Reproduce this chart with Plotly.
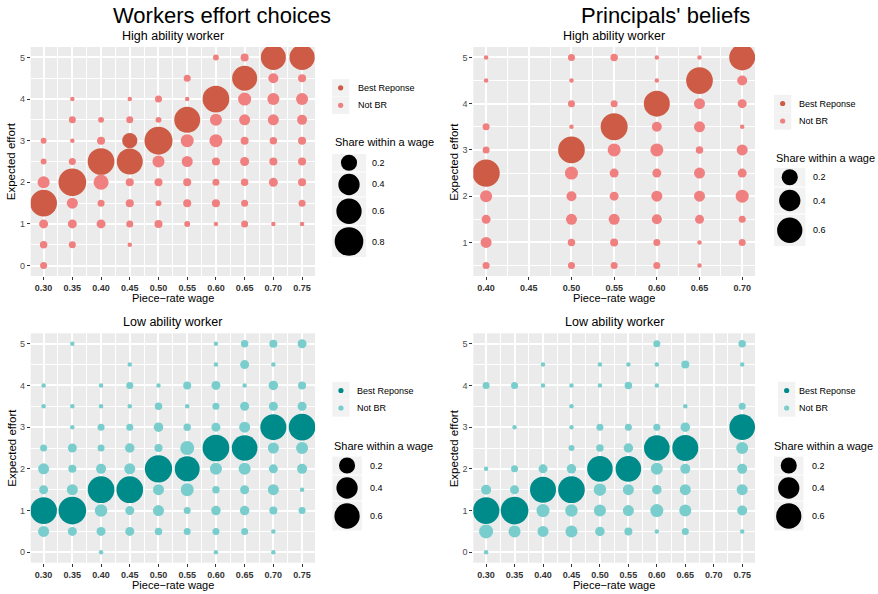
import math
import plotly.graph_objects as go

W, H = 878, 594
FONT = "Liberation Sans, Arial, Helvetica, sans-serif"

# ---------------- data ----------------
# Workers, high ability
wk_high_wages = [0.30, 0.35, 0.40, 0.45, 0.50, 0.55, 0.60, 0.65, 0.70, 0.75]
wk_high_effort = [
    [3.0, 2.5, 2.0, 1.5, 1.0, 0.5, 0.0],
    [4.0, 3.5, 3.0, 2.5, 2.0, 1.5, 1.0, 0.5],
    [3.5, 3.0, 2.5, 2.0, 1.5, 1.0],
    [4.0, 3.5, 3.0, 2.5, 2.0, 1.5, 1.0, 0.5],
    [4.0, 3.5, 3.0, 2.5, 2.0, 1.5, 1.0],
    [4.5, 4.0, 3.5, 3.0, 2.5, 2.0, 1.5, 1.0],
    [5.0, 4.0, 3.5, 3.0, 2.5, 2.0, 1.5, 1.0],
    [5.0, 4.5, 4.0, 3.5, 3.0, 2.5, 2.0, 1.5, 1.0],
    [5.0, 4.5, 4.0, 3.5, 3.0, 2.5, 2.0, 1.0],
    [5.0, 4.5, 4.0, 3.5, 3.0, 2.5, 2.0, 1.5, 1.0],
]
wk_high_share = [
    [0.007, 0.007, 0.09, 0.68, 0.037, 0.019, 0.015],
    [0.001, 0.015, 0.001, 0.015, 0.74, 0.07, 0.037, 0.015],
    [0.007, 0.025, 0.68, 0.166, 0.015, 0.037],
    [0.001, 0.015, 0.17, 0.64, 0.025, 0.025, 0.015, 0.001],
    [0.015, 0.007, 0.76, 0.09, 0.025, 0.007, 0.025],
    [0.015, 0.001, 0.64, 0.113, 0.07, 0.025, 0.025, 0.007],
    [0.007, 0.68, 0.09, 0.113, 0.025, 0.015, 0.025, 0.001],
    [0.025, 0.584, 0.113, 0.07, 0.025, 0.037, 0.019, 0.015, 0.015],
    [0.584, 0.052, 0.09, 0.07, 0.019, 0.025, 0.037, 0.001],
    [0.60, 0.025, 0.09, 0.052, 0.025, 0.025, 0.025, 0.015, 0.001],
]
wk_high_br = [[1.5], [2.0], [2.5], [3.0, 2.5], [3.0], [3.5], [4.0], [4.5], [5.0], [5.0]]

# Principals' beliefs, high ability
pr_high_wages = [0.40, 0.50, 0.55, 0.60, 0.65, 0.70]
pr_high_effort = [
    [5.0, 4.5, 3.5, 3.0, 2.5, 2.0, 1.5, 1.0, 0.5],
    [5.0, 4.5, 4.0, 3.5, 3.0, 2.5, 2.0, 1.5, 1.0, 0.5],
    [5.0, 4.0, 3.5, 3.0, 2.5, 2.0, 1.5, 1.0, 0.5],
    [5.0, 4.5, 4.0, 3.5, 3.0, 2.5, 2.0, 1.5, 1.0, 0.5],
    [5.0, 4.5, 4.0, 3.5, 3.0, 2.5, 2.0, 1.5, 1.0, 0.5],
    [5.0, 4.5, 4.0, 3.5, 3.0, 2.5, 2.0, 1.5, 1.0],
]
pr_high_share = [
    [0.001, 0.001, 0.015, 0.015, 0.72, 0.09, 0.037, 0.07, 0.015],
    [0.015, 0.001, 0.015, 0.001, 0.68, 0.113, 0.052, 0.07, 0.019, 0.015],
    [0.019, 0.015, 0.70, 0.113, 0.037, 0.037, 0.07, 0.025, 0.015],
    [0.001, 0.001, 0.64, 0.052, 0.113, 0.037, 0.07, 0.052, 0.015, 0.015],
    [0.001, 0.68, 0.07, 0.07, 0.019, 0.07, 0.07, 0.037, 0.001, 0.001],
    [0.64, 0.052, 0.037, 0.001, 0.07, 0.037, 0.113, 0.015, 0.015],
]
pr_high_br = [[2.5], [3.0], [3.5], [4.0], [4.5], [5.0]]

# Workers, low ability
wk_low_wages = [0.30, 0.35, 0.40, 0.45, 0.50, 0.55, 0.60, 0.65, 0.70, 0.75]
wk_low_effort = [
    [4.0, 3.5, 2.5, 2.0, 1.5, 1.0, 0.5],
    [5.0, 3.5, 3.0, 2.5, 2.0, 1.5, 1.0, 0.5],
    [4.0, 3.5, 3.0, 2.5, 2.0, 1.5, 1.0, 0.5, 0.0],
    [4.5, 4.0, 3.5, 3.0, 2.5, 2.0, 1.5, 1.0, 0.5],
    [4.0, 3.5, 3.0, 2.5, 2.0, 1.5, 1.0, 0.5],
    [4.0, 3.5, 3.0, 2.5, 2.0, 1.5, 1.0, 0.5],
    [5.0, 4.5, 4.0, 3.5, 3.0, 2.5, 2.0, 1.5, 1.0, 0.5, 0.0],
    [5.0, 4.5, 4.0, 3.5, 3.0, 2.5, 2.0, 1.5, 1.0, 0.5],
    [5.0, 4.5, 4.0, 3.5, 3.0, 2.5, 2.0, 1.5, 1.0, 0.5, 0.0],
    [5.0, 4.0, 3.5, 3.0, 2.5, 2.0, 1.5, 1.0],
]
wk_low_share = [
    [0.001, 0.001, 0.015, 0.07, 0.037, 0.68, 0.07],
    [0.001, 0.001, 0.001, 0.037, 0.025, 0.07, 0.74, 0.037],
    [0.001, 0.001, 0.015, 0.015, 0.052, 0.68, 0.10, 0.037, 0.001],
    [0.001, 0.015, 0.001, 0.015, 0.044, 0.07, 0.68, 0.037, 0.037],
    [0.001, 0.019, 0.044, 0.025, 0.72, 0.07, 0.07, 0.019],
    [0.025, 0.001, 0.019, 0.138, 0.584, 0.113, 0.015, 0.015],
    [0.001, 0.001, 0.037, 0.015, 0.037, 0.68, 0.09, 0.019, 0.044, 0.015, 0.001],
    [0.019, 0.037, 0.001, 0.037, 0.07, 0.62, 0.09, 0.037, 0.044, 0.015],
    [0.025, 0.001, 0.044, 0.037, 0.64, 0.07, 0.037, 0.07, 0.025, 0.001, 0.001],
    [0.037, 0.025, 0.037, 0.68, 0.09, 0.052, 0.001, 0.015],
]
wk_low_br = [[1.0], [1.0], [1.5], [1.5], [2.0], [2.0], [2.5], [2.5], [3.0], [3.0]]

# Principals' beliefs, low ability
pr_low_wages = [0.30, 0.35, 0.40, 0.45, 0.50, 0.55, 0.60, 0.65, 0.75]
pr_low_effort = [
    [4.0, 2.0, 1.5, 1.0, 0.5, 0.0],
    [4.0, 3.0, 2.0, 1.5, 1.0, 0.5],
    [4.5, 4.0, 2.0, 1.5, 1.0, 0.5],
    [4.0, 3.5, 3.0, 2.5, 2.0, 1.5, 1.0, 0.5],
    [4.5, 4.0, 3.0, 2.5, 2.0, 1.5, 1.0, 0.5],
    [4.5, 4.0, 3.0, 2.5, 2.0, 1.5, 1.0, 0.5],
    [5.0, 4.5, 4.0, 3.0, 2.5, 2.0, 1.5, 1.0, 0.5],
    [4.5, 3.5, 3.0, 2.5, 2.0, 1.5, 1.0, 0.5],
    [5.0, 4.5, 3.5, 3.0, 2.5, 2.0, 1.5, 1.0, 0.5],
]
pr_low_share = [
    [0.015, 0.001, 0.052, 0.68, 0.138, 0.001],
    [0.015, 0.001, 0.015, 0.037, 0.74, 0.09],
    [0.001, 0.001, 0.037, 0.64, 0.113, 0.07],
    [0.001, 0.001, 0.001, 0.007, 0.044, 0.68, 0.10, 0.09],
    [0.001, 0.001, 0.015, 0.019, 0.62, 0.10, 0.09, 0.044],
    [0.001, 0.019, 0.015, 0.044, 0.62, 0.07, 0.07, 0.025],
    [0.015, 0.001, 0.001, 0.015, 0.62, 0.09, 0.044, 0.113, 0.001],
    [0.025, 0.001, 0.044, 0.64, 0.052, 0.07, 0.09, 0.015],
    [0.019, 0.001, 0.015, 0.62, 0.09, 0.052, 0.07, 0.052, 0.001],
]
pr_low_br = [[1.0], [1.0], [1.5], [1.5], [2.0], [2.0], [2.5], [2.5], [3.0]]

xtick_full = [0.30, 0.35, 0.40, 0.45, 0.50, 0.55, 0.60, 0.65, 0.70, 0.75]
xtick_short = [0.40, 0.45, 0.50, 0.55, 0.60, 0.65, 0.70]

HIGH_COLORS = ("#CD5B45", "#F08080")
LOW_COLORS = ("#008B8B", "#79CDCD")


# ---------------- helpers ----------------
def size_px(s):
    return 3.6 + 28.0 * math.sqrt(s)


def PX(x):
    return x / W


def PY(y):
    return 1 - y / H


panels = [
    dict(wages=wk_high_wages, eff=wk_high_effort, share=wk_high_share, br=wk_high_br,
         colors=HIGH_COLORS, box=(30.7, 47, 315, 276), xr=(0.2775, 0.7725), xt=xtick_full,
         yr=(-0.25, 5.25), subtitle="High ability worker",
         leg=dict(ck_x0=332, ck_y=[87.8, 105.3], txt_x=355.5, title=(332.5, 142.3),
                  sz_x0=332, sz_w=34, rows=[(154, 171.5), (172.5, 196.5), (197.5, 225), (226, 257)],
                  vals=[0.2, 0.4, 0.6, 0.8], lab_x=370)),
    dict(wages=pr_high_wages, eff=pr_high_effort, share=pr_high_share, br=pr_high_br,
         colors=HIGH_COLORS, box=(473.3, 47, 755, 276), xr=(0.385, 0.715), xt=xtick_short,
         yr=(0.275, 5.225), subtitle="High ability worker",
         leg=dict(ck_x0=774, ck_y=[103.5, 121], txt_x=796.5, title=(774, 157.7),
                  sz_x0=774, sz_w=31.5, rows=[(168, 186.5), (187.5, 213.5), (214.5, 246)],
                  vals=[0.2, 0.4, 0.6], lab_x=811)),
    dict(wages=wk_low_wages, eff=wk_low_effort, share=wk_low_share, br=wk_low_br,
         colors=LOW_COLORS, box=(30.7, 333.3, 315, 562.7), xr=(0.2775, 0.7725), xt=xtick_full,
         yr=(-0.25, 5.25), subtitle="Low ability worker",
         leg=dict(ck_x0=332.3, ck_y=[390.5, 408], txt_x=355, title=(332, 445.5),
                  sz_x0=332.3, sz_w=29.5, rows=[(456.5, 474.5), (475.5, 500.5), (501.5, 530.5)],
                  vals=[0.2, 0.4, 0.6], lab_x=367.7)),
    dict(wages=pr_low_wages, eff=pr_low_effort, share=pr_low_share, br=pr_low_br,
         colors=LOW_COLORS, box=(473.3, 333.3, 755, 562.7), xr=(0.2775, 0.7725), xt=xtick_full,
         yr=(-0.25, 5.25), subtitle="Low ability worker",
         leg=dict(ck_x0=778, ck_y=[390.5, 408], txt_x=797, title=(772, 445.5),
                  sz_x0=774, sz_w=29.5, rows=[(456.5, 474.5), (475.5, 500.5), (501.5, 530.5)],
                  vals=[0.2, 0.4, 0.6], lab_x=810)),
]

fig = go.Figure()
shapes = []
annotations = []
layout_axes = {}

for i, p in enumerate(panels, start=1):
    xa = "x" if i == 1 else f"x{i}"
    ya = "y" if i == 1 else f"y{i}"
    xs_nb, ys_nb, ss_nb, xs_b, ys_b, ss_b = [], [], [], [], [], []
    for w, effs, shs, brs in zip(p["wages"], p["eff"], p["share"], p["br"]):
        for e, s in zip(effs, shs):
            if e in brs:
                xs_b.append(w); ys_b.append(e); ss_b.append(size_px(s))
            else:
                xs_nb.append(w); ys_nb.append(e); ss_nb.append(size_px(s))
    br_col, nb_col = p["colors"]
    fig.add_trace(go.Scatter(x=xs_nb, y=ys_nb, mode="markers", xaxis=xa, yaxis=ya,
                             marker=dict(size=ss_nb, color=nb_col, opacity=1, line=dict(width=0)),
                             showlegend=False, hoverinfo="skip"))
    fig.add_trace(go.Scatter(x=xs_b, y=ys_b, mode="markers", xaxis=xa, yaxis=ya,
                             marker=dict(size=ss_b, color=br_col, opacity=1, line=dict(width=0)),
                             showlegend=False, hoverinfo="skip"))

    x0, y0, x1, y1 = p["box"]
    xt = p["xt"]
    xminor = [round(xt[0] - 0.025 + 0.05 * k, 4) for k in range(len(xt) + 1)]
    ymaj = [v for v in [0, 1, 2, 3, 4, 5] if p["yr"][0] <= v <= p["yr"][1]]
    ymin = [v for v in [0.5, 1.5, 2.5, 3.5, 4.5] if p["yr"][0] <= v <= p["yr"][1]]
    xkey = "xaxis" if i == 1 else f"xaxis{i}"
    ykey = "yaxis" if i == 1 else f"yaxis{i}"
    layout_axes[xkey] = dict(
        domain=[PX(x0), PX(x1)], range=list(p["xr"]), anchor=ya,
        tickmode="array", tickvals=xt, ticktext=[f"{v:.2f}" for v in xt],
        tickfont=dict(family=FONT, size=9, color="#333333", weight=700),
        ticks="outside", ticklen=3, tickwidth=1, tickcolor="#333333",
        showgrid=True, gridcolor="white", gridwidth=1.5, zeroline=False, showline=False,
        minor=dict(tickmode="array", tickvals=xminor, showgrid=True, gridcolor="white",
                   gridwidth=0.7, ticks=""),
    )
    layout_axes[ykey] = dict(
        domain=[PY(y1), PY(y0)], range=list(p["yr"]), anchor=xa,
        tickmode="array", tickvals=ymaj, ticktext=[str(v) for v in ymaj],
        tickfont=dict(family=FONT, size=9, color="#4D4D4D"),
        ticks="outside", ticklen=3, tickwidth=1, tickcolor="#333333",
        showgrid=True, gridcolor="white", gridwidth=1.5, zeroline=False, showline=False,
        minor=dict(tickmode="array", tickvals=ymin, showgrid=True, gridcolor="white",
                   gridwidth=0.7, ticks=""),
    )

    cx = (x0 + x1) / 2
    cy = (y0 + y1) / 2
    annotations.append(dict(text=p["subtitle"], x=PX(cx), y=PY(y0 - 11.5), xref="paper", yref="paper",
                            showarrow=False, xanchor="center", yanchor="middle",
                            font=dict(family=FONT, size=12.5, color="black")))
    annotations.append(dict(text="Piece\u2212rate wage", x=PX(cx), y=PY(y1 + 22), xref="paper",
                            yref="paper", showarrow=False, xanchor="center", yanchor="middle",
                            font=dict(family=FONT, size=11, color="black")))
    annotations.append(dict(text="Expected effort", x=PX(x0 - 19), y=PY(cy), xref="paper",
                            yref="paper", showarrow=False, xanchor="center", yanchor="middle",
                            textangle=-90, font=dict(family=FONT, size=11.5, color="black")))

    lg = p["leg"]
    k = 17.3
    for yc, col, lab in zip(lg["ck_y"], [br_col, nb_col], ["Best Reponse", "Not BR"]):
        shapes.append(dict(type="rect", xref="paper", yref="paper",
                           x0=PX(lg["ck_x0"]), x1=PX(lg["ck_x0"] + k),
                           y0=PY(yc + k / 2), y1=PY(yc - k / 2),
                           fillcolor="#F2F2F2", line=dict(width=0), layer="below"))
        dc = lg["ck_x0"] + k / 2
        r = 2.6
        shapes.append(dict(type="circle", xref="paper", yref="paper",
                           x0=PX(dc - r), x1=PX(dc + r), y0=PY(yc + r), y1=PY(yc - r),
                           fillcolor=col, line=dict(width=0)))
        annotations.append(dict(text=lab, x=PX(lg["txt_x"]), y=PY(yc), xref="paper", yref="paper",
                                showarrow=False, xanchor="left", yanchor="middle",
                                font=dict(family=FONT, size=9, color="black")))
    annotations.append(dict(text="Share within a wage", x=PX(lg["title"][0]), y=PY(lg["title"][1]),
                            xref="paper", yref="paper", showarrow=False, xanchor="left",
                            yanchor="middle", font=dict(family=FONT, size=11, color="black")))
    for (ry0, ry1), v in zip(lg["rows"], lg["vals"]):
        shapes.append(dict(type="rect", xref="paper", yref="paper",
                           x0=PX(lg["sz_x0"]), x1=PX(lg["sz_x0"] + lg["sz_w"]),
                           y0=PY(ry1), y1=PY(ry0),
                           fillcolor="#F2F2F2", line=dict(width=0), layer="below"))
        d = size_px(v)
        ccx = lg["sz_x0"] + lg["sz_w"] / 2
        ccy = (ry0 + ry1) / 2
        shapes.append(dict(type="circle", xref="paper", yref="paper",
                           x0=PX(ccx - d / 2), x1=PX(ccx + d / 2),
                           y0=PY(ccy + d / 2), y1=PY(ccy - d / 2),
                           fillcolor="black", line=dict(width=0)))
        annotations.append(dict(text=f"{v:.1f}", x=PX(lg["lab_x"]), y=PY(ccy), xref="paper",
                                yref="paper", showarrow=False, xanchor="left", yanchor="middle",
                                font=dict(family=FONT, size=9, color="black")))

annotations.append(dict(text="Workers effort choices", x=PX(222), y=PY(16), xref="paper",
                        yref="paper", showarrow=False, xanchor="center", yanchor="middle",
                        font=dict(family=FONT, size=22, color="black")))
annotations.append(dict(text="Principals' beliefs", x=PX(665), y=PY(16), xref="paper",
                        yref="paper", showarrow=False, xanchor="center", yanchor="middle",
                        font=dict(family=FONT, size=22, color="black")))

fig.update_layout(
    width=W, height=H, margin=dict(l=0, r=0, t=0, b=0),
    paper_bgcolor="white", plot_bgcolor="#EBEBEB",
    showlegend=False, shapes=shapes, annotations=annotations,
    font=dict(family=FONT),
    **layout_axes,
)

fig.write_html(
    "out.html",
    config={"displayModeBar": False},
    post_script="document.documentElement.style.margin='0';document.body.style.margin='0';"
                "document.body.style.padding='0';document.body.style.overflow='hidden';",
)
